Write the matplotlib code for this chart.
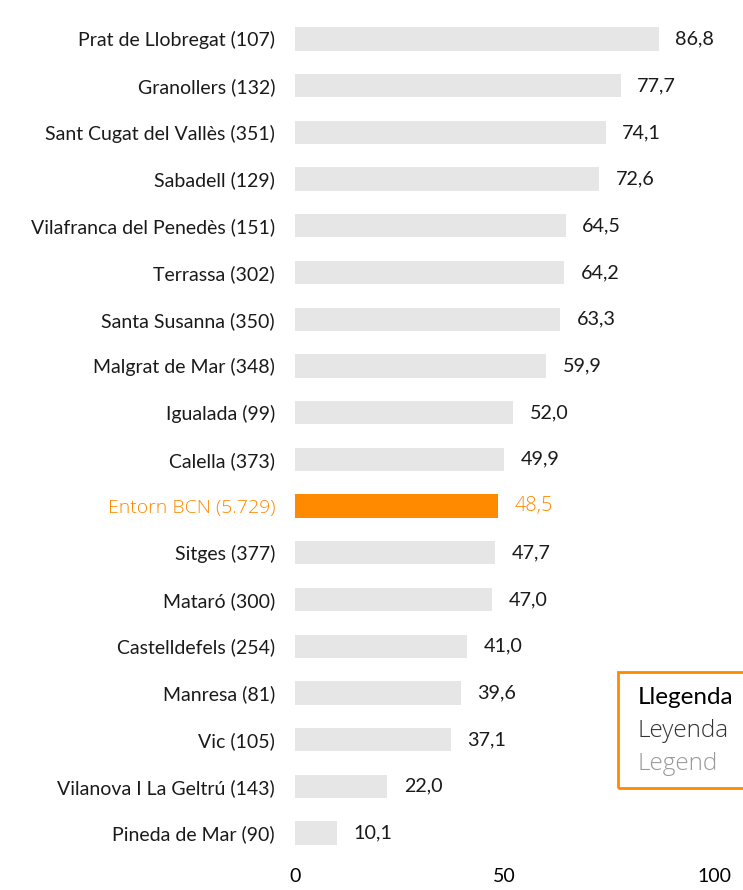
import matplotlib
matplotlib.use("Agg")
import matplotlib.pyplot as plt
import matplotlib.patches as patches

plt.rcParams['font.family'] = ['Lato', 'DejaVu Sans']
thin = ['Open Sans', 'DejaVu Sans']

cities = ["Prat de Llobregat (107)", "Granollers (132)", "Sant Cugat del Vallès (351)",
          "Sabadell (129)", "Vilafranca del Penedès (151)", "Terrassa (302)",
          "Santa Susanna (350)", "Malgrat de Mar (348)", "Igualada (99)",
          "Calella (373)", "Entorn BCN (5.729)", "Sitges (377)", "Mataró (300)",
          "Castelldefels (254)", "Manresa (81)", "Vic (105)",
          "Vilanova I La Geltrú (143)", "Pineda de Mar (90)"]
values = [86.8, 77.7, 74.1, 72.6, 64.5, 64.2, 63.3, 59.9, 52.0, 49.9,
          48.5, 47.7, 47.0, 41.0, 39.6, 37.1, 22.0, 10.1]
highlight = "Entorn BCN (5.729)"
xticks = [0, 50, 100]
legend_lines = ["Llegenda", "Leyenda", "Legend"]

W, H = 743, 890
orange = "#FF8A00"
grey = "#E6E6E6"

fig = plt.figure(figsize=(W / 100, H / 100), dpi=100)
ax = fig.add_axes([295 / W, 1 - 856.4 / H, 419.4 / W, (856.4 - 15.6) / H])

ypos = list(range(len(cities)))
colors = [orange if c == highlight else grey for c in cities]
ax.barh(ypos, values, height=0.5, color=colors)

for y, v, c in zip(ypos, values, cities):
    txt = ("%.1f" % v).replace(".", ",")
    if c == highlight:
        ax.text(v + 3.9, y, txt, va="center", ha="left", fontsize=14.3,
                color=orange, family=thin, fontweight="light")
    else:
        ax.text(v + 3.9, y, txt, va="center", ha="left", fontsize=14.2, color="#1a1a1a")

ax.set_xlim(0, 100)
ax.set_ylim(len(cities) - 0.5, -0.5)
ax.set_yticks(ypos)
ax.set_yticklabels(cities, fontsize=14)
for lbl, c in zip(ax.get_yticklabels(), cities):
    if c == highlight:
        lbl.set_color(orange)
        lbl.set_family(thin)
        lbl.set_fontweight("light")
        lbl.set_fontsize(14)
    else:
        lbl.set_color("#1a1a1a")
ax.set_xticks(xticks)
ax.set_xticklabels([str(t) for t in xticks], fontsize=14)
ax.tick_params(axis="y", length=0, pad=14.4)
ax.tick_params(axis="x", length=0, pad=8)
for s in ax.spines.values():
    s.set_visible(False)

# legend box, cut by the right edge
box = patches.Rectangle((618 / W, 1 - 788 / H), 140 / W, 116 / H, transform=fig.transFigure,
                        fill=False, edgecolor=orange, linewidth=2, clip_on=False)
fig.add_artist(box)
fig.text(638 / W, 1 - 698 / H, legend_lines[0], fontsize=17.5, color="#000000",
         va="center", ha="left")
for i, (t, c) in enumerate(zip(legend_lines[1:], ["#333333", "#999999"])):
    fig.text(638 / W, 1 - (731 + i * 33) / H, t, fontsize=17.5, color=c, family=thin,
             fontweight="light", va="center", ha="left")

fig.savefig("out.png", dpi=100)
